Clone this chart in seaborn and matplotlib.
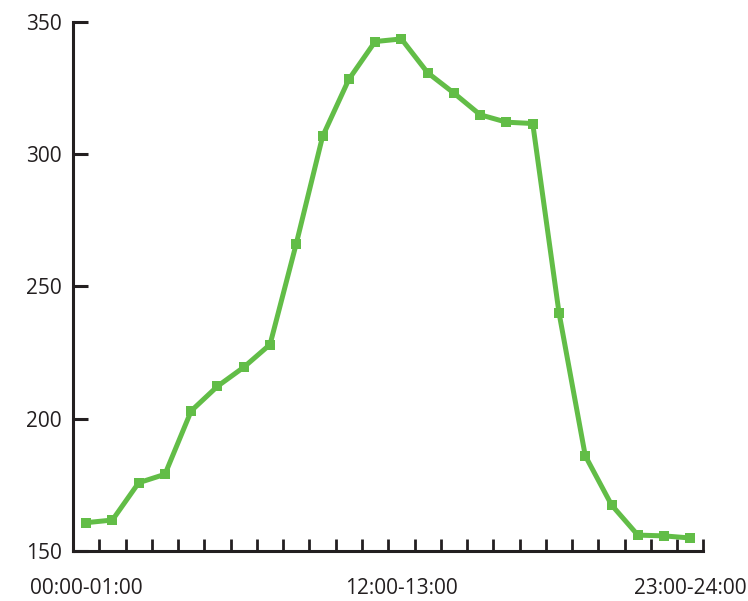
import matplotlib
matplotlib.use("Agg")
import matplotlib.pyplot as plt
import seaborn as sns
import pandas as pd
import numpy as np

# Hourly values, one per hour slot of the day
hours = [f"{h:02d}:00-{h + 1:02d}:00" for h in range(24)]
values = [160.6, 161.6, 175.7, 178.9, 202.9, 212.2, 219.4, 228.0,
          266.2, 306.7, 328.3, 342.6, 343.6, 330.8, 323.1, 314.9,
          312.1, 311.6, 240.0, 185.9, 167.3, 155.9, 155.6, 154.8]
labelled_slots = [0, 12, 23]
y_ticks = [150, 200, 250, 300, 350]

sns.set_theme(style="white")
plt.rcParams["font.family"] = ["Open Sans", "DejaVu Sans"]

df = pd.DataFrame({"slot": np.arange(len(hours)), "value": values})

fig = plt.figure(figsize=(7.48, 6.01), dpi=100)
ax = fig.add_axes([0.0976, 0.0837, 0.9405 - 0.0976, 0.9634 - 0.0837])

green = "#62BD47"
ink = "#231F20"

sns.lineplot(data=df, x="slot", y="value", ax=ax, color=green,
             linewidth=3.6, marker="s", markersize=7.5,
             markeredgewidth=0, markerfacecolor=green)

ax.set_xlim(-0.5, len(hours) - 0.5)
ax.set_ylim(y_ticks[0], y_ticks[-1])

# Slot boundaries carry the tick marks; slot centres carry the labels
ax.set_xticks(np.arange(len(hours) + 1) - 0.5)
ax.set_xticklabels([])
ax.set_xticks(labelled_slots, minor=True)
ax.set_xticklabels([hours[i] for i in labelled_slots], minor=True)
ax.tick_params(axis="x", which="major", bottom=True, direction="in",
               length=9, width=2.0, color=ink)
ax.tick_params(axis="x", which="minor", bottom=True, length=0, pad=20,
               labelsize=15, labelcolor=ink)

ax.set_yticks(y_ticks)
ax.set_yticklabels([str(t) for t in y_ticks])
ax.tick_params(axis="y", left=True, direction="in", length=11, width=2.2,
               color=ink, labelsize=15, labelcolor=ink, pad=8)

for side in ("top", "right"):
    ax.spines[side].set_visible(False)
for side in ("left", "bottom"):
    ax.spines[side].set_color(ink)
    ax.spines[side].set_linewidth(2.2)

ax.set_xlabel("")
ax.set_ylabel("")
ax.grid(False)

fig.savefig("out.png", dpi=100)
